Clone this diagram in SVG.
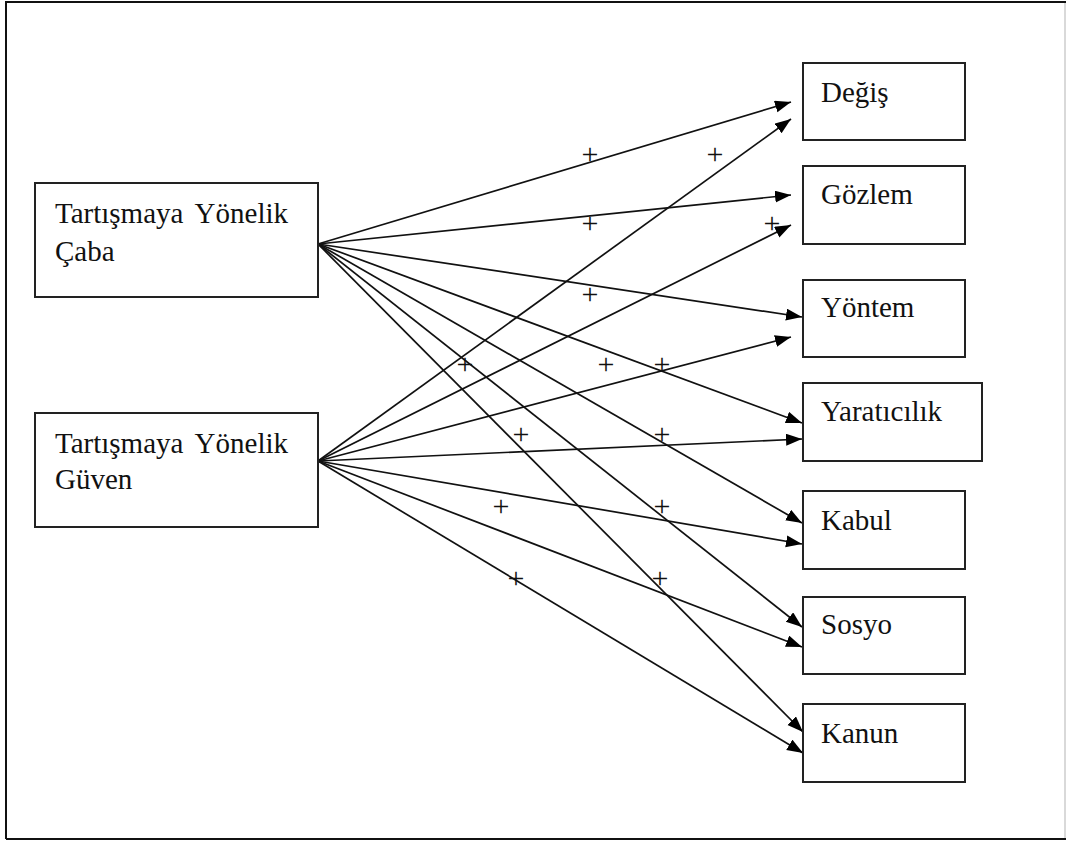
<svg xmlns="http://www.w3.org/2000/svg" width="1066" height="841" viewBox="0 0 1066 841">
<style>
.box{fill:#fff;stroke:#222;stroke-width:2}
.lbl{font-family:"Liberation Serif","Times New Roman",serif;font-size:29px;fill:#111}
.plus{font-family:"Liberation Serif","Times New Roman",serif;font-size:30px;fill:#111;text-anchor:middle}
.edge{stroke:#111;stroke-width:1.7;fill:none;marker-end:url(#arr)}
</style>
<defs>
<marker id="arr" markerUnits="userSpaceOnUse" markerWidth="17" markerHeight="13" refX="16" refY="6" orient="auto">
<path d="M0,0 L16,6 L0,12 z" fill="#000"/>
</marker>
</defs>
<rect width="1066" height="841" fill="#fff"/>
<g id="frame">
<path d="M6,839 V2 H1066" fill="none" stroke="#111" stroke-width="2"/>
<path d="M6,839 H1066" fill="none" stroke="#111" stroke-width="2"/>
<path d="M1065,3 V838" fill="none" stroke="#ccc" stroke-width="1.5"/>
</g>
<g id="connectors">
<line class="edge" x1="318" y1="244" x2="791" y2="102"/>
<line class="edge" x1="318" y1="461" x2="791" y2="119"/>
<line class="edge" x1="318" y1="244" x2="791" y2="195"/>
<line class="edge" x1="318" y1="461" x2="791" y2="225"/>
<line class="edge" x1="318" y1="244" x2="802" y2="317"/>
<line class="edge" x1="318" y1="461" x2="791" y2="337"/>
<line class="edge" x1="318" y1="244" x2="802" y2="423"/>
<line class="edge" x1="318" y1="461" x2="802" y2="439"/>
<line class="edge" x1="318" y1="244" x2="802" y2="523"/>
<line class="edge" x1="318" y1="461" x2="802" y2="544"/>
<line class="edge" x1="318" y1="244" x2="802" y2="627"/>
<line class="edge" x1="318" y1="461" x2="802" y2="647"/>
<line class="edge" x1="318" y1="244" x2="803" y2="732"/>
<line class="edge" x1="318" y1="461" x2="803" y2="753"/>
</g>
<g id="signs">
<text class="plus" x="590" y="164">+</text>
<text class="plus" x="715" y="164">+</text>
<text class="plus" x="590" y="233">+</text>
<text class="plus" x="772" y="233">+</text>
<text class="plus" x="590" y="304">+</text>
<text class="plus" x="465" y="374">+</text>
<text class="plus" x="606" y="374">+</text>
<text class="plus" x="662" y="374">+</text>
<text class="plus" x="521" y="444">+</text>
<text class="plus" x="662" y="444">+</text>
<text class="plus" x="501" y="516">+</text>
<text class="plus" x="662" y="516">+</text>
<text class="plus" x="516" y="588">+</text>
<text class="plus" x="660" y="588">+</text>
</g>
<g id="caba">
<rect class="box" x="35" y="183" width="283" height="114"/>
<text class="lbl" x="55" y="223" word-spacing="5">Tartışmaya Yönelik</text>
<text class="lbl" x="55" y="261">Çaba</text>
</g>
<g id="guven">
<rect class="box" x="35" y="413" width="283" height="114"/>
<text class="lbl" x="55" y="453" word-spacing="5">Tartışmaya Yönelik</text>
<text class="lbl" x="55" y="489">Güven</text>
</g>
<g id="degis">
<rect class="box" x="803" y="63" width="162" height="77"/>
<text class="lbl" x="821" y="102">Değiş</text>
</g>
<g id="gozlem">
<rect class="box" x="803" y="166" width="162" height="78"/>
<text class="lbl" x="821" y="204">Gözlem</text>
</g>
<g id="yontem">
<rect class="box" x="803" y="280" width="162" height="77"/>
<text class="lbl" x="821" y="317">Yöntem</text>
</g>
<g id="yaraticilik">
<rect class="box" x="803" y="383" width="179" height="78"/>
<text class="lbl" x="821" y="421">Yaratıcılık</text>
</g>
<g id="kabul">
<rect class="box" x="803" y="491" width="162" height="78"/>
<text class="lbl" x="821" y="530">Kabul</text>
</g>
<g id="sosyo">
<rect class="box" x="803" y="597" width="162" height="77"/>
<text class="lbl" x="821" y="634">Sosyo</text>
</g>
<g id="kanun">
<rect class="box" x="803" y="704" width="162" height="78"/>
<text class="lbl" x="821" y="743">Kanun</text>
</g>
</svg>
